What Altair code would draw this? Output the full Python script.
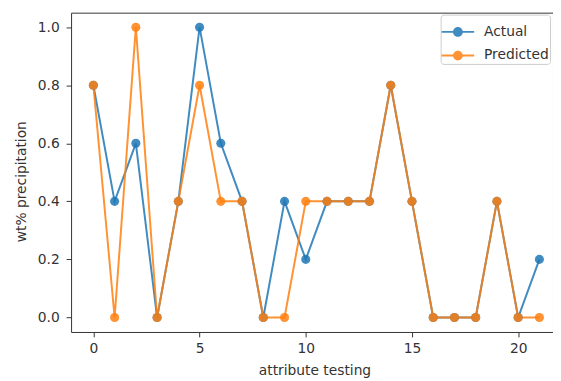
import altair as alt
import pandas as pd

# ---- data ----
x_vals = list(range(22))
actual = [0.8, 0.4, 0.6, 0.0, 0.4, 1.0, 0.6, 0.4, 0.0, 0.4, 0.2,
          0.4, 0.4, 0.4, 0.8, 0.4, 0.0, 0.0, 0.0, 0.4, 0.0, 0.2]
predicted = [0.8, 0.0, 1.0, 0.0, 0.4, 0.8, 0.4, 0.4, 0.0, 0.0, 0.4,
             0.4, 0.4, 0.4, 0.8, 0.4, 0.0, 0.0, 0.0, 0.4, 0.0, 0.0]
series_names = ["Actual", "Predicted"]
series_colors = ["#1f77b4", "#ff7f0e"]
x_ticks = [0, 5, 10, 15, 20]
y_ticks = [0.0, 0.2, 0.4, 0.6, 0.8, 1.0]

df = pd.DataFrame({
    "x": x_vals + x_vals,
    "y": actual + predicted,
    "series": [series_names[0]] * len(x_vals) + [series_names[1]] * len(x_vals),
})

FONT = "DejaVu Sans"
TXT = "#333333"

xscale = alt.Scale(domain=[-1.05, 21.64], nice=False, zero=False)
yscale = alt.Scale(domain=[-0.05, 1.05], nice=False, zero=False)
cscale = alt.Scale(domain=series_names, range=series_colors)

xenc = alt.X("x:Q", scale=xscale,
             axis=alt.Axis(values=x_ticks, format="d", title="attribute testing",
                           titleX=247, titlePadding=8))
yenc = alt.Y("y:Q", scale=yscale,
             axis=alt.Axis(values=y_ticks, format=".1f", title="wt% precipitation",
                           titlePadding=9, titleY=171, labelPadding=7))

sym_path = "M-1,-0.06H1V0.06H-1Z M0.3,0A0.3,0.3,0,1,1,-0.3,0A0.3,0.3,0,1,1,0.3,0Z"

legend = alt.Legend(title=None, orient="none", legendX=375, legendY=2,
                    symbolType=sym_path, symbolSize=1089,
                    symbolStrokeWidth=0, rowPadding=-11,
                    labelFontSize=14, labelFont=FONT, labelColor=TXT,
                    labelOffset=10, padding=1,
                    strokeColor="#cccccc", fillColor="rgba(255,255,255,0.8)",
                    cornerRadius=3)

lines = alt.Chart(df).mark_line(strokeWidth=2, opacity=0.85).encode(
    x=xenc, y=yenc,
    color=alt.Color("series:N", scale=cscale, legend=legend),
    order="x:Q",
)

points = alt.Chart(df).mark_point(filled=True, size=85, opacity=0.85).encode(
    x=xenc, y=yenc,
    color=alt.Color("series:N", scale=cscale, legend=legend),
)

chart = alt.layer(lines, points).properties(
    width=489, height=324,
    autosize=alt.AutoSizeParams(type="none"),
    padding={"left": 64, "top": 2, "right": 0, "bottom": 47},
    background="white",
).configure_view(
    stroke="#333333", strokeWidth=1, fill="white"
).configure_axis(
    grid=False, domain=False,
    tickColor=TXT, tickSize=5, tickWidth=1,
    labelFont=FONT, labelFontSize=14, labelColor=TXT, labelPadding=5,
    titleFont=FONT, titleFontSize=14, titleColor=TXT, titleFontWeight="normal",
)

chart.save("out.html", embed_options={"renderer": "svg", "actions": False})
